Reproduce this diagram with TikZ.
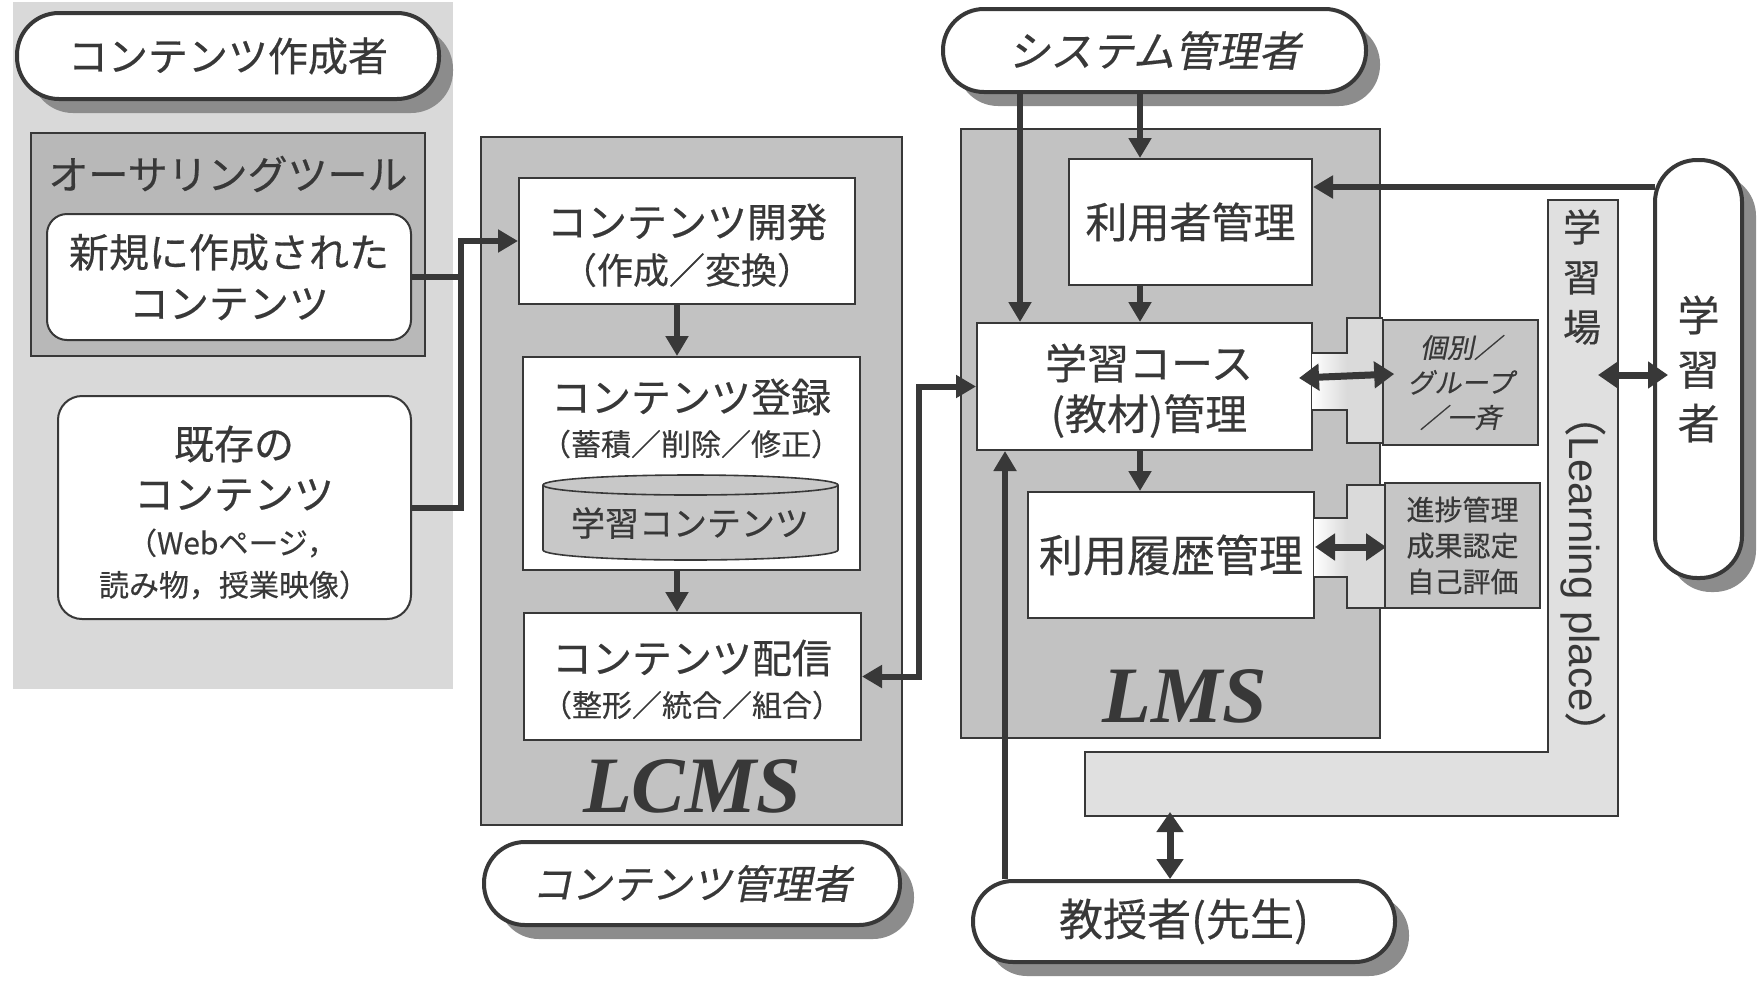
\documentclass[tikz,border=0pt]{standalone}
\usepackage{fontspec}
\setmainfont{Noto Sans CJK JP}[FakeBold=0.4]
\newfontfamily\jp{Noto Sans CJK JP}[FakeBold=0.4]
\newfontfamily\jpsl{Noto Sans CJK JP}[FakeSlant=0.2,FakeBold=0.4]
\newfontfamily\lat{Liberation Sans}
\newfontfamily\sbi{Liberation Serif}
\usetikzlibrary{arrows.meta,shadows}
\definecolor{ink}{HTML}{383838}
\definecolor{panelL}{HTML}{D9D9D9}
\definecolor{authc}{HTML}{B8B8B8}
\definecolor{panelc}{HTML}{C2C2C2}
\definecolor{tabc}{HTML}{DADADA}
\definecolor{smallc}{HTML}{C6C6C6}
\definecolor{placec}{HTML}{E0E0E0}
\definecolor{cylc}{HTML}{C8C8C8}
\definecolor{shadowc}{HTML}{8C8C8C}
\newcommand\myfs[1]{\fontsize{#1pt}{#1pt}\selectfont}
\begin{document}
\begin{tikzpicture}[x=0.5pt,y=-0.5pt,
  txt/.style={text=ink, inner sep=0pt},
  pill/.style={draw=ink, line width=2pt, fill=white, inner sep=0pt, text=ink,
    drop shadow={shadow xshift=7pt, shadow yshift=-7pt, fill=shadowc, opacity=1}},
  wbox/.style={draw=ink, line width=1pt, fill=white, inner sep=0pt, text=ink},
  panelbox/.style={draw=ink, line width=0.8pt, fill=panelc, inner sep=0pt},
  smallbox/.style={draw=ink, line width=0.8pt, fill=smallc, inner sep=0pt, text=ink, align=center},
  conn/.style={draw=ink, line width=3pt, -{Triangle[length=10pt,width=11pt]}},
  dconn/.style={draw=ink, line width=3pt, {Triangle[length=10pt,width=11pt]}-{Triangle[length=10pt,width=11pt]}},
  plain/.style={draw=ink, line width=3pt},
  dbl/.style={draw=ink, line width=3.5pt, {Triangle[length=10pt,width=13pt]}-{Triangle[length=10pt,width=13pt]}},
  tabline/.style={draw=ink, line width=0.8pt}
]
\useasboundingbox[fill=white] (0,0) rectangle (1764,980);

% ---------- left panel ----------
\path[fill=panelL] (13,2) rectangle (453,689);
\node[pill, rounded corners=21pt, minimum width=211pt, minimum height=43pt, font=\myfs{20}] (author) at (228,56) {コンテンツ作成者};
\node[draw=ink, line width=0.8pt, fill=authc, minimum width=197pt, minimum height=111.5pt, inner sep=0pt] (auth) at (228,244.5) {};
\node[txt, font=\myfs{20}] (authT) at (228,174) {オーサリングツール};
\node[wbox, rounded corners=10pt, minimum width=182pt, minimum height=63pt, align=center,
  font=\fontsize{20pt}{25.5pt}\selectfont] (newc) at (229,277) {新規に作成された\\コンテンツ};
\node[wbox, rounded corners=12pt, minimum width=176.5pt, minimum height=111.5pt] (exist) at (234.5,507.5) {};
\node[txt, font=\myfs{20}] (ex1) at (234,444) {既存の};
\node[txt, font=\myfs{20}] (ex2) at (234,495) {コンテンツ};
\node[txt, font=\myfs{15}] (ex3) at (232,543) {（Webページ，};
\node[txt, font=\myfs{15}] (ex4) at (234,585) {読み物，授業映像）};

% ---------- LCMS ----------
\node[panelbox, minimum width=210.5pt, minimum height=344pt] (lcms) at (691.5,481) {};
\node[wbox, minimum width=168pt, minimum height=63pt] (dev) at (687,241) {};
\node[txt, font=\myfs{20}] (devT1) at (687,222) {コンテンツ開発};
\node[txt, font=\myfs{18}] (devT2) at (687,270) {（作成／変換）};
\node[wbox, minimum width=168.5pt, minimum height=106.5pt] (reg) at (691.5,463.5) {};
\node[txt, font=\myfs{20}] (regT1) at (691,397) {コンテンツ登録};
\node[txt, font=\myfs{15}] (regT2) at (691,444) {（蓄積／削除／修正）};
\path[fill=cylc, draw=ink, line width=0.8pt] (543,485) -- (543,550)
  arc[start angle=180, end angle=360, x radius=73.75pt, y radius=5pt] -- (838,485)
  arc[start angle=0, end angle=180, x radius=73.75pt, y radius=5pt] -- cycle;
\draw[ink, line width=0.8pt] (543,485) arc[start angle=180, end angle=360, x radius=73.75pt, y radius=5pt];
\node[txt, font=\myfs{17}] (db) at (690,523) {学習コンテンツ};
\node[wbox, minimum width=168.5pt, minimum height=63.5pt] (dist) at (692.5,676.5) {};
\node[txt, font=\myfs{20}] (distT1) at (692,658) {コンテンツ配信};
\node[txt, font=\myfs{15}] (distT2) at (692,705) {（整形／統合／組合）};
\node[txt, anchor=base, font=\sbi\bfseries\itshape\myfs{40}] (lcmsL) at (692,812) {LCMS};
\node[pill, rounded corners=20.5pt, minimum width=208pt, minimum height=41.5pt, font=\jpsl\myfs{20}] (cmgr) at (692,883.5) {コンテンツ管理者};

% ---------- LMS ----------
\node[pill, rounded corners=20.5pt, minimum width=211.5pt, minimum height=41.5pt, font=\jpsl\myfs{21}] (sys) at (1154.5,50.5) {システム管理者};
\node[panelbox, minimum width=209.5pt, minimum height=304.5pt] (lms) at (1170.5,433.5) {};
\node[wbox, minimum width=121.5pt, minimum height=63pt, font=\myfs{21}] (user) at (1190.5,222) {利用者管理};
\node[wbox, minimum width=167.5pt, minimum height=63.5pt] (course) at (1144.5,386.5) {};
\node[txt, font=\myfs{21}] (courseT1) at (1149,363) {学習コース};
\node[txt, font=\myfs{21}] (courseT2) at (1149,416) {(教材)管理};
\node[wbox, minimum width=143pt, minimum height=63pt, font=\myfs{22}] (hist) at (1171,555) {利用履歴管理};
\node[txt, anchor=base, font=\sbi\bfseries\itshape\myfs{40}] (lmsL) at (1185,722) {LMS};

% tabs row 1
\shade[left color=white, right color=tabc] (1312,353) rectangle (1347,410);
\fill[tabc] (1347,318) rectangle (1383,443);
\draw[tabline] (1312,353) -- (1347,353) -- (1347,318) -- (1383,318);
\draw[tabline] (1312,410) -- (1347,410) -- (1347,443) -- (1383,443);
\node[smallbox, minimum width=77.5pt, minimum height=62.5pt, font=\jpsl\fontsize{13.5pt}{17.5pt}\selectfont] (grp) at (1460.5,382.5) {個別／\\グループ\\／一斉};
% tabs row 2
\shade[left color=white, right color=tabc] (1314,518) rectangle (1347,577);
\fill[tabc] (1347,485) rectangle (1385,608);
\draw[tabline] (1314,518) -- (1347,518) -- (1347,485) -- (1385,485);
\draw[tabline] (1314,577) -- (1347,577) -- (1347,608) -- (1385,608);
\node[smallbox, minimum width=77.5pt, minimum height=62.5pt, font=\fontsize{14pt}{18pt}\selectfont] (prog) at (1462.5,545.5) {進捗管理\\成果認定\\自己評価};

% ---------- learning place ----------
\path[fill=placec, draw=ink, line width=0.8pt] (1548,200) -- (1618,200) -- (1618,816) -- (1085,816) -- (1085,752) -- (1548,752) -- cycle;
\node[txt, align=center, font=\fontsize{19pt}{25pt}\selectfont] (placeT) at (1582,277) {学\\習\\場};
\node[txt, rotate=-90, font=\myfs{21}] (placeE) at (1583,574) {（{\lat Learning place}）};

% ---------- learner / teacher ----------
\node[pill, rounded corners=21pt, minimum width=43.5pt, minimum height=209pt, align=center,
  font=\fontsize{21pt}{27pt}\selectfont] (learner) at (1698.5,369) {学\\習\\者};
\node[pill, rounded corners=20pt, minimum width=211pt, minimum height=40.5pt, font=\myfs{22}] (teacher) at (1184,921.5) {教授者(先生)};

% ---------- coordinates ----------
\coordinate (jx) at (461,260);
\coordinate (jy) at (461,277);
\coordinate (ax) at (677,0);
\coordinate (kx) at (919,500);
\coordinate (s1) at (1020,0);
\coordinate (s2) at (1140,0);
\coordinate (uy) at (0,187);
\coordinate (tx) at (1005,0);
\coordinate (pl) at (1598,375);
\coordinate (pb) at (1170,812);

% ---------- connectors ----------
\draw[conn] (newc.east) -| (jx) |- (dev.west);
\draw[plain] (exist.east) -| (jy);
\draw[conn] (dev.south -| ax) -- (reg.north -| ax);
\draw[conn] (reg.south -| ax) -- (dist.north -| ax);
\draw[dconn] (dist.east) -| (kx) |- (course.west);
\draw[conn] (sys.south -| s1) -- (course.north -| s1);
\draw[conn] (sys.south -| s2) -- (user.north -| s2);
\draw[conn] (user.south -| s2) -- (course.north -| s2);
\draw[conn] (course.south -| s2) -- (hist.north -| s2);
\draw[conn] ([xshift=1pt]learner.west |- uy) -- (user.east |- uy);
\draw[dbl] ([xshift=-7pt,yshift=4.25pt]course.east) -- ([xshift=6pt,yshift=4.25pt]grp.west);
\draw[dbl] ([xshift=0pt,yshift=4pt]hist.east) -- ([xshift=1pt,yshift=-0.75pt]prog.west);
\draw[dbl] (pl) -- ([xshift=7.5pt]learner.west |- pl);
\draw[conn] (teacher.north -| tx) -- (course.south -| tx);
\draw[dbl] (pb) -- (teacher.north -| pb);
\end{tikzpicture}
\end{document}
